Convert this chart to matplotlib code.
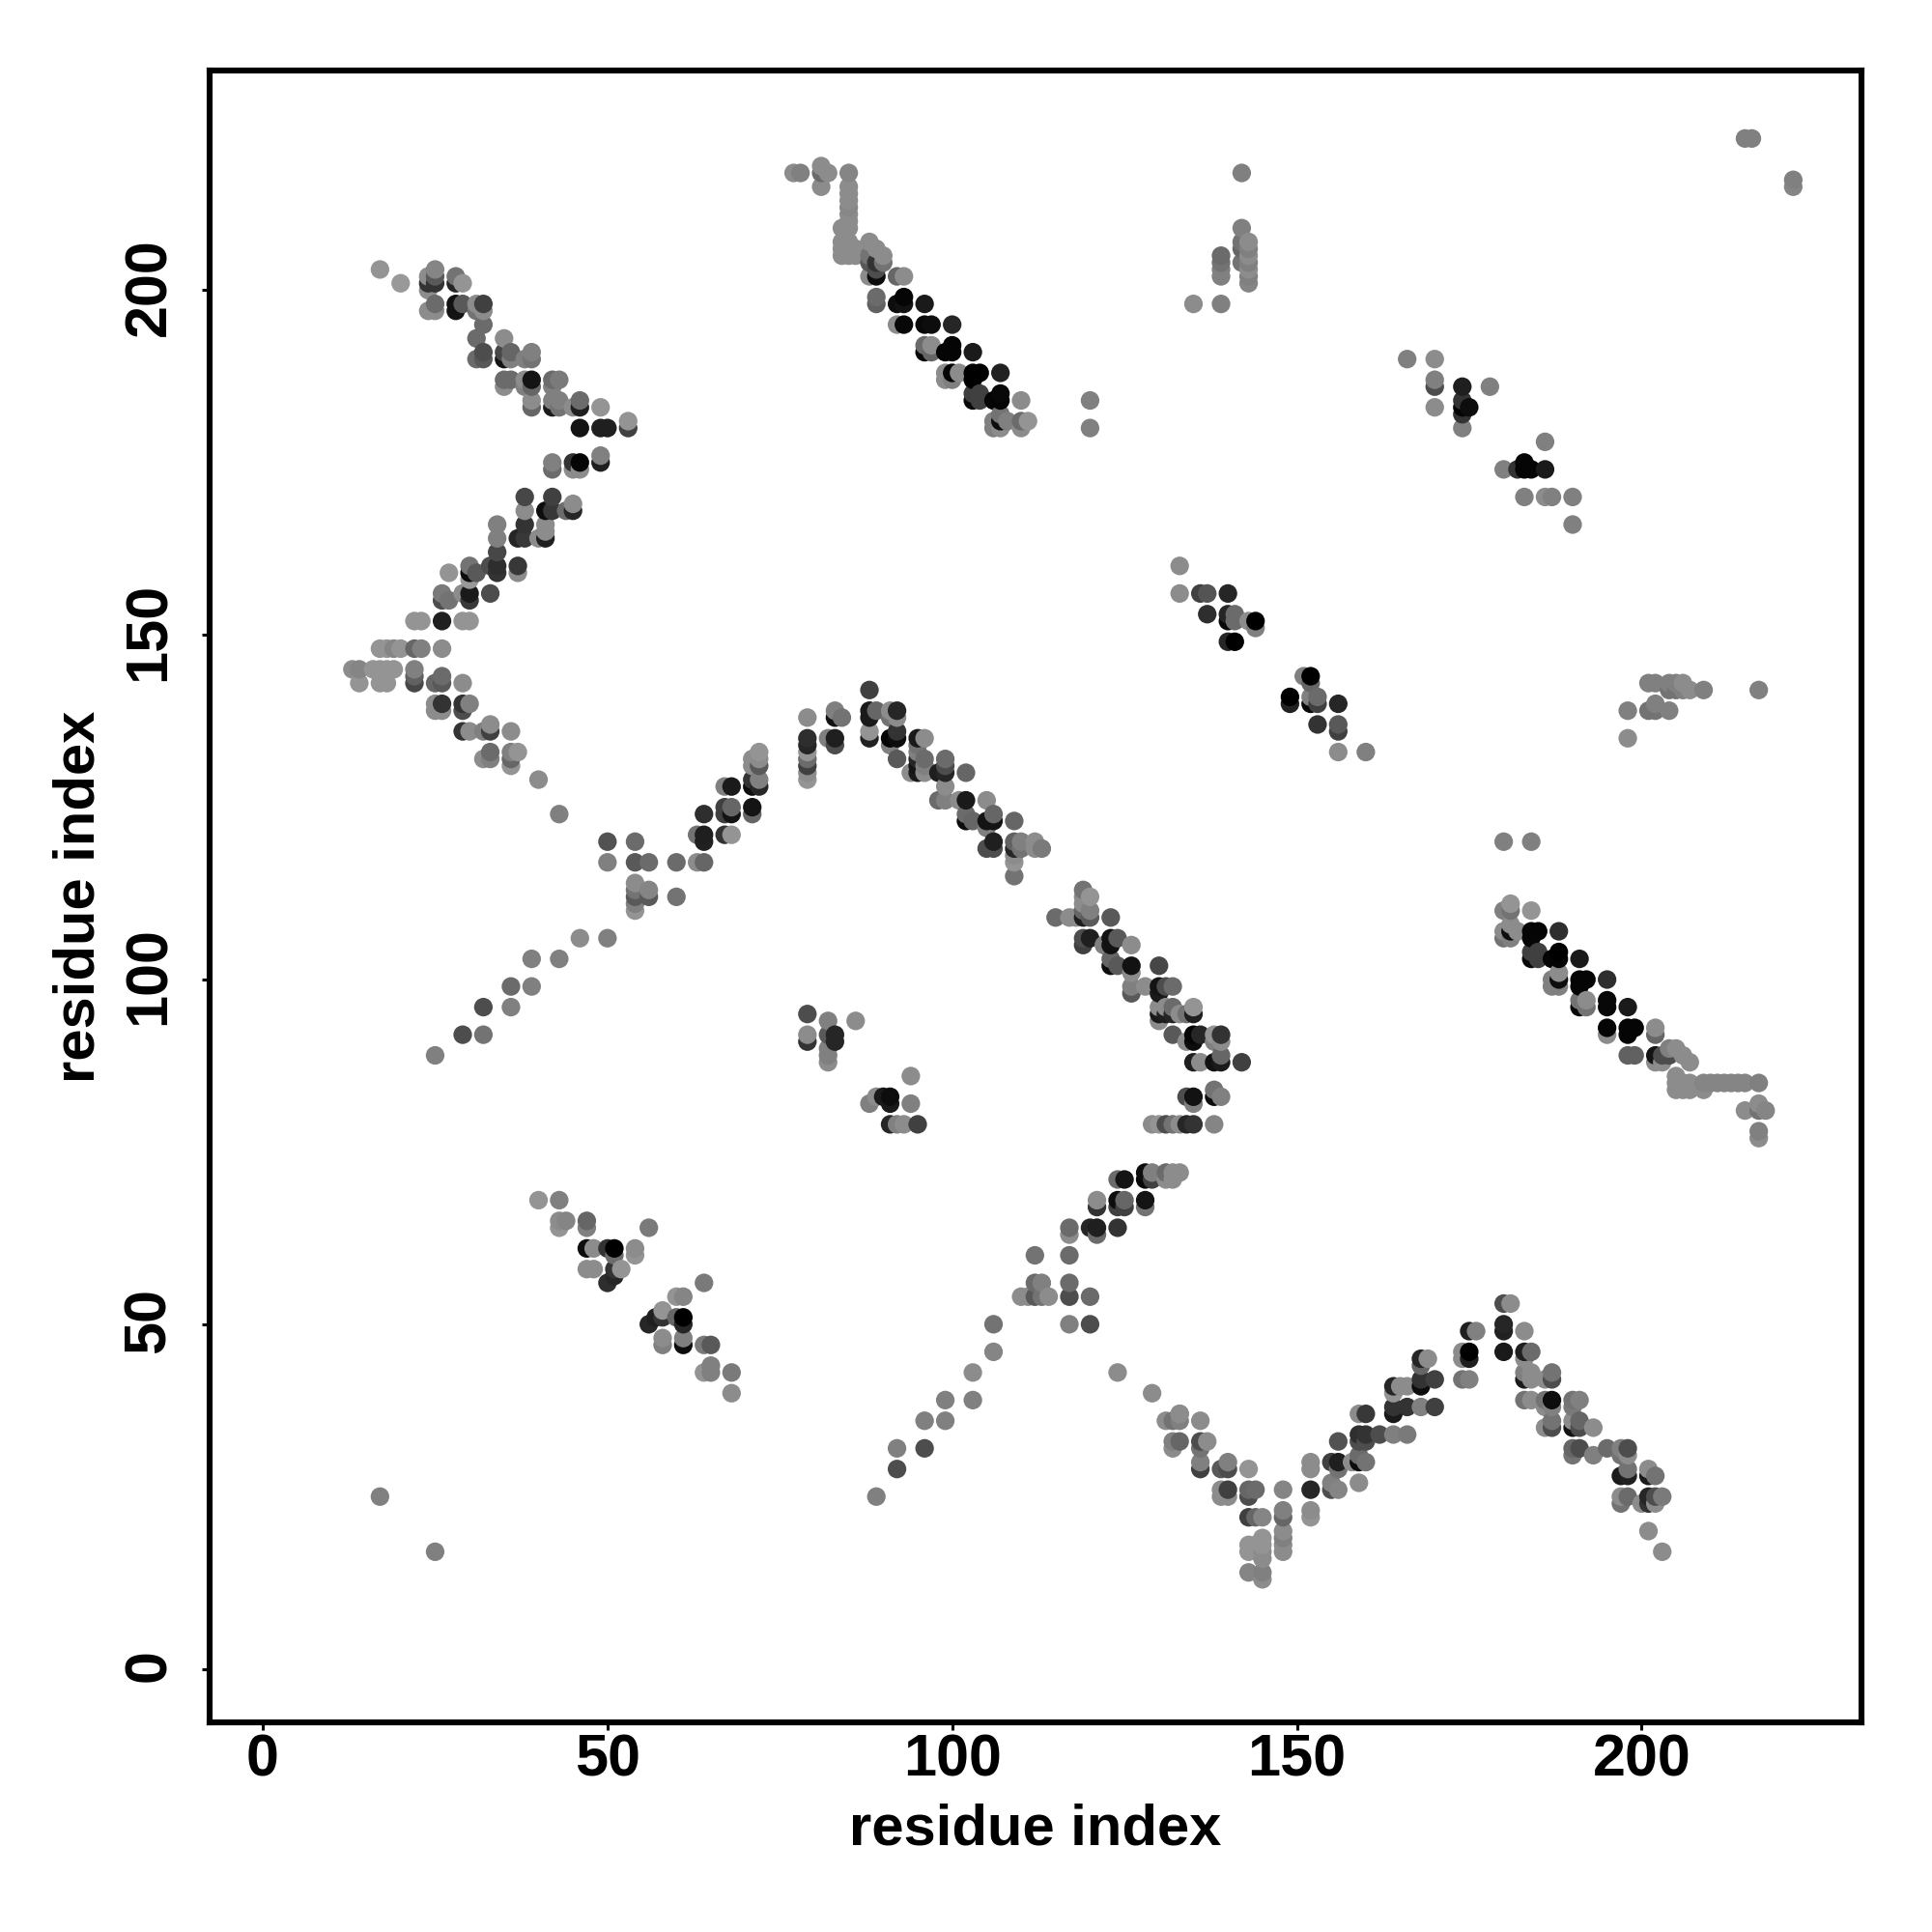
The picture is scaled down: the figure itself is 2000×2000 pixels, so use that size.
import pandas as pd
import matplotlib
matplotlib.use('Agg')
import matplotlib.pyplot as plt
from matplotlib.transforms import ScaledTranslation

plt.rcParams['font.family'] = ['Liberation Sans', 'DejaVu Sans']

# contacts: (residue x, residue y, grey level)
arm_top_left = [
    (17,203,.58),(20,201,.6),(24,202,.55),(24,201,.2),(24,200,.55),(24,197,.55),
    (25,203,.52),(25,202,.35),(25,201,.2),(25,198,.42),(25,197,.55),
    (28,202,.45),(28,201,.15),(29,201,.58),(28,198,.07),(28,197,.08),(29,198,.35),
    (31,198,.55),(31,197,.45),(32,198,.25),(32,197,.55),(32,195,.42),(31,193,.42),(31,190,.42),
    (32,191,.3),(32,190,.35),(35,193,.55),(35,191,.28),(35,190,.08),(36,191,.4),(36,190,.5),
    (38,190,.5),(39,191,.5),(39,190,.45),(35,187,.42),(35,186,.55),(36,187,.42),
    (38,187,.55),(38,186,.5),(39,187,.08),(39,186,.4),(39,184,.55),(39,183,.4),
    (42,187,.42),(42,186,.5),(43,187,.48),(42,184,.5),(42,183,.1),(43,184,.5),(43,183,.45),
    (45,183,.55),(46,184,.42),(46,183,.12),(49,183,.58),(46,180,.08),(49,180,.12),(50,180,.12),
    (53,181,.58),(53,180,.25),
    (42,175,.5),(42,174,.42),(45,175,.2),(45,174,.55),(46,175,.02),(46,174,.55),(49,176,.5),(49,175,.12),
]
arm_mid_left = [
    (38,170,.28),(38,168,.55),(38,166,.2),(38,164,.22),(42,170,.25),(41,168,.05),(42,168,.22),
    (44,168,.42),(45,169,.55),(45,168,.15),(34,166,.5),(34,164,.5),(34,162,.28),(34,160,.18),(34,159,.2),
    (33,160,.3),(37,164,.15),(40,164,.55),(41,166,.55),(41,165,.55),(41,164,.12),
    (30,160,.45),(30,159,.05),(31,159,.35),(30,158,.6),(27,159,.58),(37,160,.22),(37,159,.55),
    (33,156,.3),(30,156,.1),(30,155,.22),(29,156,.55),(26,156,.48),(26,155,.3),(27,155,.45),
    (22,152,.58),(23,152,.58),(26,152,.12),(29,152,.58),(30,152,.58),
    (17,148,.58),(18,148,.58),(19,148,.52),(20,148,.58),(22,148,.4),(23,148,.5),(26,148,.55),
    (13,145,.55),(14,145,.52),(14,143,.58),(16,145,.58),(17,145,.58),(18,145,.58),(19,145,.58),
    (17,143,.58),(18,143,.58),(22,145,.5),(22,144,.38),(22,143,.28),(25,143,.4),(26,144,.42),(26,143,.35),
    (29,143,.55),(25,140,.55),(25,139,.55),(26,140,.2),(26,139,.55),(29,140,.2),(29,139,.3),(30,140,.5),
    (29,136,.2),(30,136,.55),(32,136,.5),(33,136,.25),(33,137,.55),(36,136,.55),
    (32,132,.55),(33,133,.42),(33,132,.5),(36,133,.5),(36,132,.4),(36,131,.58),(37,133,.58),
    (40,129,.55),(43,124,.5),
]
arm_top_mid = [
    (77,217,.55),(78,217,.5),(81,218,.55),(81,217,.42),(82,217,.55),(81,215,.55),(85,217,.52),
    (85,215,.55),(85,214,.55),(85,213,.55),(85,212,.53),(85,211,.55),(85,210,.55),(85,209,.55),(84,209,.55),
    (84,207,.55),(84,206,.55),(84,205,.55),(85,207,.55),(85,206,.55),(85,205,.55),(86,206,.55),(86,205,.55),
    (88,207,.55),(89,206,.55),(90,205,.55),(88,205,.45),(88,204,.35),(89,204,.2),(89,203,.3),
    (88,202,.55),(89,202,.05),(90,204,.45),(92,202,.4),(93,202,.55),(89,199,.42),(89,198,.38),
    (92,198,.05),(93,199,.02),(93,198,.07),(96,198,.1),(92,195,.55),(93,195,.03),(96,195,.03),(97,195,.05),
    (100,195,.15),(96,192,.42),(96,191,.03),(97,192,.55),(97,191,.4),(99,191,.02),(100,192,.02),(100,191,.02),
    (103,191,.1),(99,188,.55),(99,187,.55),(100,188,.02),(100,187,.5),(101,188,.55),
    (103,188,0),(104,188,0),(103,187,0),(107,188,.13),(103,185,.25),(103,184,.03),(104,185,.25),(104,184,.25),
    (106,184,.02),(107,185,.03),(107,184,.02),(110,184,.55),(120,184,.5),(120,180,.5),
    (106,181,.5),(106,180,.5),(107,182,.45),(107,181,.05),(107,180,.55),(108,181,.5),
    (110,181,.42),(110,180,.55),(111,181,.58),
]
arm_rise_left = [
    (25,89,.5),(29,92,.3),(32,96,.3),(32,92,.45),(36,99,.42),(36,96,.5),(39,103,.5),(39,99,.5),(43,103,.5),
    (46,106,.55),(50,106,.5),(50,120,.32),(54,120,.42),(50,117,.5),(54,117,.35),(56,117,.42),(60,117,.42),
    (63,117,.55),(64,117,.4),(54,114,.55),(54,113,.45),(54,112,.35),(54,111,.5),(54,110,.58),
    (56,113,.52),(56,112,.35),(60,112,.45),(63,121,.45),(64,121,.12),(64,120,.13),(64,124,.18),
    (67,124,.25),(67,125,.25),(68,125,.4),(68,124,.08),(67,121,.2),(68,121,.58),(67,128,.5),(68,128,.1),
    (71,125,.08),(71,124,.4),(71,129,.2),(71,128,.05),(72,128,.15),(72,129,.5),(71,132,.55),(71,131,.55),
    (72,133,.58),(72,132,.55),(72,131,.35),(79,138,.55),(79,135,.18),(79,134,.15),(79,133,.58),(79,132,.42),
    (79,131,.25),(79,130,.55),(79,129,.58),(83,139,.5),(83,138,.07),(84,138,.45),(82,135,.5),(83,135,.12),(83,134,.3),
    (88,142,.25),(88,139,.1),(88,138,.1),(89,139,.4),(88,136,.58),(88,135,.13),(91,139,.55),(91,138,.45),
    (92,139,.15),(92,138,.55),(91,135,.02),(91,134,.5),(92,136,.2),(92,135,.05),(92,132,.35),
    (94,130,.55),(95,135,.1),(95,134,.45),(95,133,.5),(95,132,.15),(95,131,.08),(95,130,.1),(96,135,.55),(96,132,.42),(96,131,.5),(96,130,.55),
]
arm_fall_mid = [
    (98,130,.12),(99,132,.42),(99,131,.3),(99,130,.15),(102,130,.4),(99,128,.55),(98,126,.42),(99,126,.5),(101,126,.55),(102,126,.1),
    (105,126,.55),(102,124,.42),(102,123,.05),(103,123,.4),(105,123,.08),(105,122,.5),(106,124,.4),(106,123,.08),
    (109,123,.4),(106,120,.12),(105,119,.3),(106,119,.3),(109,120,.38),(109,119,.15),(110,120,.5),(110,119,.45),
    (109,118,.55),(109,117,.58),(109,115,.45),(112,120,.55),(112,119,.55),(113,119,.48),
    (119,113,.45),(119,112,.55),(120,112,.58),(119,111,.55),(119,110,.4),(119,109,.12),(120,110,.5),(120,109,.35),
    (115,109,.42),(117,109,.55),(118,109,.55),(123,109,.35),(119,106,.3),(119,105,.25),(120,106,.12),
    (122,105,.5),(123,106,.07),(123,105,.07),(124,106,.35),(126,105,.55),(123,103,.4),(123,102,.05),(124,102,.35),
    (126,102,.07),(126,101,.55),(130,102,.28),(126,99,.5),(126,98,.35),(128,99,.55),(130,99,.08),(130,98,.1),
    (131,99,.3),(132,99,.42),(130,96,.55),(130,95,.1),(130,94,.55),(131,96,.55),(131,95,.12),(132,96,.42),
    (132,95,.15),(133,95,.55),(134,95,.45),(135,96,.58),(135,95,.12),(132,92,.35),(134,91,.55),(135,92,.02),
    (135,91,.05),(136,92,.15),(138,92,.58),(138,91,.5),(139,92,.2),(139,91,.55),(135,88,.12),(136,88,.55),
    (138,88,.07),(139,89,.4),(139,88,.1),(142,88,.25),
]
inner_block = [
    (79,95,.3),(79,92,.55),(79,91,.2),(82,94,.5),(82,92,.35),(83,92,.15),(83,91,.15),(82,90,.5),(82,89,.5),(82,88,.55),
    (86,94,.55),(88,82,.5),(89,83,.55),(90,83,.1),(91,83,.05),(91,82,.1),(94,82,.5),(94,86,.55),
    (91,79,.15),(92,79,.5),(93,79,.55),(95,79,.25),
]
arm_rise_mid = [
    (134,83,.3),(135,83,.07),(135,82,.5),(138,84,.45),(138,83,.05),(139,83,.5),
    (129,79,.55),(130,79,.58),(131,79,.3),(132,79,.45),(133,79,.55),(134,79,.15),(135,79,.2),(138,79,.52),
    (124,71,.42),(125,71,.08),(128,72,.05),(128,71,.03),(129,72,.5),(129,71,.25),(131,72,.42),(131,71,.55),
    (132,72,.55),(132,71,.55),(133,72,.55),(121,68,.55),(121,67,.2),(124,68,.05),(124,67,.25),(125,68,.4),(125,67,.25),
    (128,68,.08),(128,67,.45),(117,64,.42),(117,63,.55),(120,64,.15),(121,64,.12),(121,63,.42),(124,64,.2),
    (112,60,.45),(117,60,.42),(112,56,.42),(113,56,.5),(117,56,.42),(110,54,.55),(111,54,.55),(112,54,.35),
    (113,54,.45),(114,54,.55),(117,54,.3),(120,54,.42),(106,50,.45),(117,50,.5),(120,50,.3),(106,46,.52),
    (103,43,.55),(124,43,.55),(103,39,.5),(129,40,.55),(133,37,.55),
    (89,25,.5),(92,32,.5),(92,29,.3),(96,36,.5),(96,32,.3),(99,39,.5),(99,36,.5),
    (17,25,.5),(25,17,.5),
]
block_low_left = [
    (40,68,.58),(43,68,.5),(43,65,.55),(43,64,.58),(44,65,.52),(47,65,.4),(47,64,.5),(47,61,.05),(48,61,.55),
    (50,61,.2),(51,61,0),(51,60,.42),(54,61,.55),(54,60,.58),(56,64,.48),(47,58,.55),(48,58,.55),(51,58,.2),
    (52,58,.58),(51,57,.15),(50,56,.18),(64,56,.48),(60,54,.58),(61,54,.52),(56,50,.15),(57,51,.12),(58,52,.58),
    (58,51,.2),(60,51,.4),(61,51,0),(61,50,.15),(58,48,.55),(58,47,.5),(61,48,.5),(61,47,.05),(64,47,.48),(65,47,.35),
    (64,43,.58),(65,44,.5),(65,43,.5),(68,43,.48),(68,40,.55),
]
valley_low = [
    (131,36,.55),(132,36,.45),(133,37,.55),(133,36,.5),(136,36,.55),(132,33,.5),(132,32,.55),(133,33,.4),
    (136,33,.3),(136,32,.45),(137,33,.55),(136,30,.5),(136,29,.25),(139,29,.35),(140,30,.5),(140,29,.3),(143,29,.58),
    (139,26,.55),(139,25,.55),(140,26,.25),(140,25,.55),(143,26,.4),(143,25,.3),(144,26,.42),(148,26,.52),
    (143,22,.25),(144,22,.4),(145,22,.52),(148,23,.5),(148,22,.4),(148,20,.55),(148,19,.5),(148,18,.55),(148,17,.55),
    (143,18,.58),(143,17,.58),(144,18,.58),(145,19,.58),(145,18,.58),(145,17,.55),(145,16,.55),
    (143,14,.52),(145,14,.5),(145,13,.55),(152,30,.55),(152,29,.55),(152,26,.15),(152,23,.55),(152,22,.58),
    (155,30,.25),(156,30,.12),(156,29,.45),(155,27,.5),(155,26,.3),(156,33,.32),(156,26,.52),
    (159,37,.55),(160,37,.22),(159,34,.18),(160,34,.2),(159,33,.3),(160,33,.3),(162,34,.3),(164,34,.5),(166,34,.48),
    (158,30,.55),(159,31,.42),(159,30,.05),(160,30,.45),(159,27,.55),(164,41,.15),(164,40,.58),(165,41,.55),(166,41,.55),
    (164,38,.2),(164,37,.1),(166,38,.2),(168,38,.5),(170,38,.25),(168,41,.05),(168,42,.2),(170,42,.25),
    (168,45,.15),(168,44,.4),(169,45,.55),
]
peak_low_right = [
    (180,53,.3),(181,53,.55),(175,49,.12),(176,49,.5),(180,50,.15),(180,49,.13),(183,49,.55),
    (174,46,.55),(174,45,.55),(175,46,0),(175,45,.12),(180,46,.1),(183,46,.12),(184,46,.42),(183,45,.55),
    (174,42,.45),(175,42,.5),(183,43,.5),(183,42,.1),(184,43,.55),(184,42,.55),(186,42,.55),(187,43,.45),(187,42,.3),
    (183,39,.45),(184,39,.55),(186,39,.45),(186,38,.55),(187,39,.05),(187,38,.5),(187,36,.45),(187,35,.3),(186,35,.55),
    (190,39,.45),(190,38,.48),(191,39,.5),(190,36,.55),(190,35,.08),(191,36,.4),(191,35,.3),(193,35,.55),
    (190,32,.4),(190,31,.45),(191,32,.3),(193,31,.5),(195,32,.42),(197,32,.5),(197,31,.45),(198,32,.3),(198,31,.55),
    (197,28,.1),(198,29,.45),(198,28,.12),(201,29,.55),(201,28,.1),(202,28,.45),(197,25,.55),(197,24,.45),(198,25,.42),
    (200,24,.55),(201,25,.15),(201,24,.2),(202,25,.3),(202,24,.55),(203,25,.48),(201,20,.55),(203,17,.55),
]
band_right = [
    (180,120,.5),(184,120,.5),(180,110,.5),(181,111,.58),(181,110,.45),(184,110,.58),(180,107,.55),(180,106,.45),
    (181,108,.55),(181,107,.05),(181,106,.5),(182,107,.55),(184,107,.02),(184,106,.02),(185,107,.02),(188,107,.18),
    (184,104,.25),(184,103,.03),(185,104,.25),(185,103,.25),(187,103,.02),(188,104,0),(188,103,.02),(191,103,.1),
    (187,100,.5),(187,99,.5),(188,101,.55),(188,100,.05),(188,99,.5),(191,100,.02),(191,99,.02),(192,100,.02),(195,100,.18),
    (191,97,.45),(191,96,.03),(192,97,.55),(192,96,.45),(195,97,.03),(195,96,.03),(198,96,.1),(195,93,.02),(195,92,.55),
    (198,93,.02),(199,93,.02),(198,92,.02),(202,93,.55),(202,92,.4),(198,89,.38),(199,89,.38),(202,89,.08),(202,88,.55),
    (203,89,.3),(203,88,.55),(204,90,.5),(204,89,.3),(205,90,.55),(206,89,.55),(207,88,.55),
    (205,86,.55),(205,85,.55),(205,84,.55),(206,85,.55),(206,84,.55),(207,85,.55),(207,84,.55),(209,85,.52),(209,84,.55),
    (210,85,.52),(211,85,.52),(212,85,.52),(213,85,.52),(214,85,.52),(215,85,.52),(217,85,.5),
    (215,81,.55),(217,82,.55),(217,81,.45),(218,81,.52),(217,78,.5),(217,77,.55),
]
block_centre = [
    (133,160,.55),(133,156,.55),(136,156,.25),(137,156,.33),(140,156,.15),(137,153,.18),(140,153,.15),(140,152,.03),
    (141,153,.42),(141,152,.42),(143,152,.55),(144,152,0),(144,151,.5),(140,149,.15),(141,149,0),
    (151,144,.5),(152,144,0),(152,143,.4),(149,141,0),(149,140,.13),(152,141,.5),(152,140,.03),(153,141,.42),(153,140,.25),
    (156,140,.15),(153,137,.2),(156,137,.35),(156,136,.25),(156,133,.55),(160,133,.5),
]
block_top_right = [
    (215,222,.5),(216,222,.5),(222,216,.5),(222,215,.52),(142,217,.5),(142,209,.5),(142,207,.45),(142,206,.4),(142,204,.45),
    (139,205,.42),(139,204,.45),(139,203,.5),(139,202,.5),(143,207,.55),(143,206,.5),(143,205,.55),(143,204,.5),
    (143,203,.55),(143,202,.5),(143,201,.52),(135,198,.55),(139,198,.5),
    (166,190,.5),(170,190,.55),(170,187,.5),(170,186,.3),(170,183,.55),(174,186,.12),(178,186,.5),(174,184,.2),
    (174,183,.02),(175,183,.05),(174,182,.2),(174,180,.5),(186,178,.5),(180,174,.5),(182,174,.2),(183,175,.02),
    (183,174,.02),(184,174,.02),(186,174,.1),(183,170,.5),(186,170,.55),(187,170,.5),(190,170,.5),(190,166,.5),
]
block_right_mid = [
    (198,139,.5),(198,135,.55),(201,143,.5),(201,139,.45),(202,143,.5),(202,140,.5),(202,139,.45),(204,143,.5),
    (204,142,.45),(204,139,.5),(205,143,.5),(205,142,.45),(206,143,.55),(206,142,.5),(207,142,.55),(209,142,.5),(217,142,.5),
]

groups = [arm_top_left, arm_mid_left, arm_top_mid, arm_rise_left, arm_fall_mid, inner_block, arm_rise_mid,
          block_low_left, valley_low, peak_low_right, band_right, block_centre, block_top_right, block_right_mid]

df = pd.DataFrame([p for g in groups for p in g], columns=['x', 'y', 'grey'])
# points are stacked by residue: later x, then later y, sits on top
df = df.sort_values(['x', 'y'], kind='stable')

fig = plt.figure(figsize=(10, 10), dpi=200)
ax = fig.add_axes([216.5/2000, 1 - 1783/2000, (1927 - 216.5)/2000, (1783 - 72.7)/2000])

ax.scatter(df['x'], df['y'], s=48, c=df['grey'].astype(str), linewidths=0)

ax.set_xlim(-7.78, 231.9)
ax.set_ylim(-7.75, 231.9)
ax.set_xticks([0, 50, 100, 150, 200])
ax.set_yticks([0, 50, 100, 150, 200])

for side in ax.spines.values():
    side.set_linewidth(2.2)
ax.tick_params(axis='both', width=1.1, length=3, labelsize=22, pad=1)
ax.tick_params(axis='y', pad=8.7)
for lab in ax.get_xticklabels() + ax.get_yticklabels():
    lab.set_fontweight('bold')
# rotated labels sit a little low, nudge them back on to the ticks
nudge = ScaledTranslation(0, 3.5/200, fig.dpi_scale_trans)
for lab in ax.get_yticklabels():
    lab.set_rotation(90)
    lab.set_va('center')
    lab.set_transform(lab.get_transform() + nudge)

ax.set_xlabel('residue index', fontsize=21.5, fontweight='bold')
ax.set_ylabel('residue index', fontsize=21.5, fontweight='bold')
ax.xaxis.set_label_coords(0.5, -0.049)
ax.yaxis.set_label_coords(-0.0626, 0.5)

plt.savefig('out.png', dpi=200)
